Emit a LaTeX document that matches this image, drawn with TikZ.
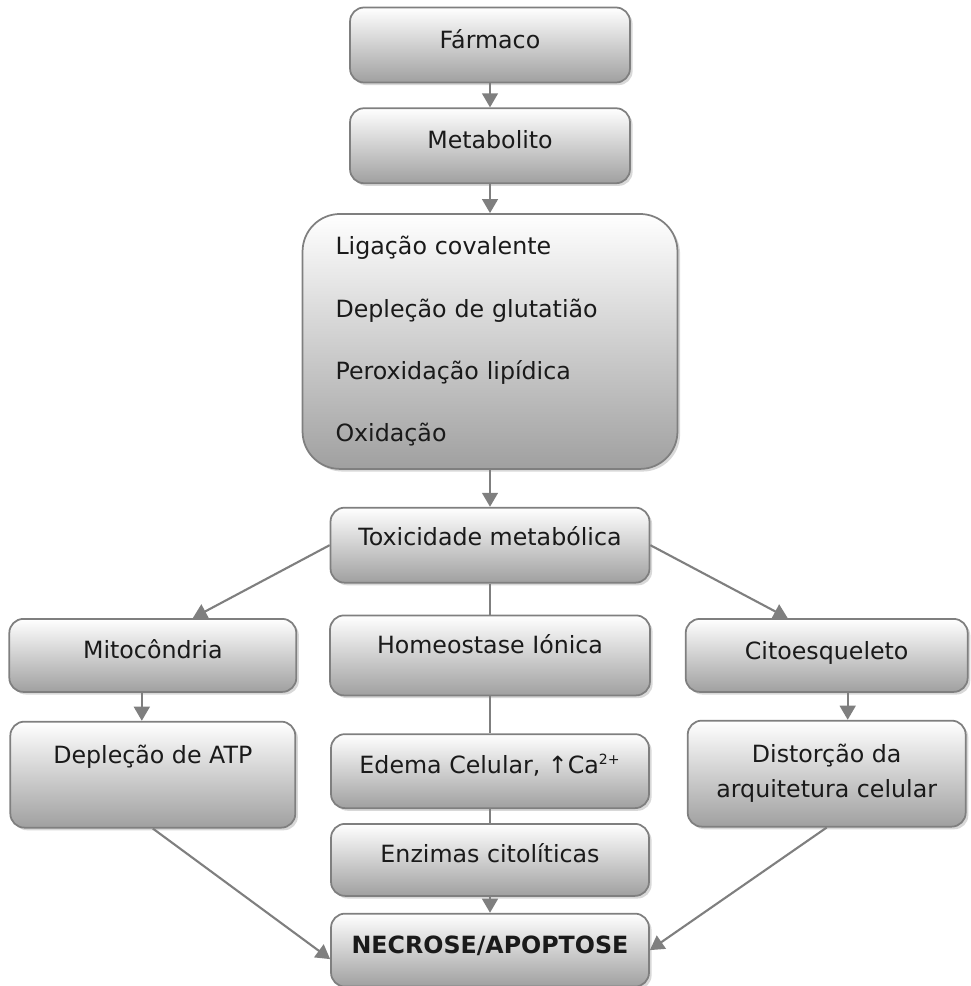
\documentclass[tikz,border=0pt]{standalone}
\usepackage{fontspec}
\setmainfont{DejaVu Sans}
\usepackage{tikz}
\usetikzlibrary{
  positioning,
  arrows.meta,
  calc,
  shadows
}
\definecolor{boxline}{HTML}{7F7F7F}
\definecolor{boxshade}{HTML}{A0A0A0}
\definecolor{linkgray}{HTML}{7F7F7F}
\definecolor{inkgray}{HTML}{1A1A1A}

\begin{document}
\begin{tikzpicture}[
  x=0.02cm, y=-0.02cm,
  >={Triangle[length=8pt,width=9pt]},
  flow/.style={
    rectangle, rounded corners=0.28cm, draw=boxline, line width=1pt,
    top color=white, bottom color=boxshade, align=center, inner sep=2pt,
    text=inkgray, font=\fontsize{13.5pt}{16pt}\selectfont,
    drop shadow={shadow xshift=1.5pt, shadow yshift=-1.5pt, fill=black!30, opacity=0.5}
  },
  lift/.style={text height=12pt, text depth=#1},
  lift/.default=9pt,
  link/.style={line width=1.2pt, linkgray}
]
\useasboundingbox (0,0) rectangle (970,986);

% central chain
\node[flow, lift=7.8pt, minimum width=5.6cm, minimum height=1.5cm] (far) at (490,45) {Fármaco};
\node[flow, lift, minimum width=5.6cm, minimum height=1.5cm, below=0.48cm of far] (met) {Metabolito};
\node[flow, rounded corners=0.75cm, minimum width=7.5cm, minimum height=5.1cm,
  align=left, text width=6.18cm, inner xsep=0.66cm,
  font=\fontsize{13.5pt}{35.5pt}\selectfont, below=0.58cm of met] (big) {
  Ligação covalente\\
  Depleção de glutatião\\
  Peroxidação lipídica\\
  Oxidação
};
\node[flow, lift=11.2pt, minimum width=6.38cm, minimum height=1.5cm, below=0.74cm of big] (tox) {Toxicidade metabólica};
\node[flow, lift=14.6pt, minimum width=6.4cm, minimum height=1.6cm, below=0.62cm of tox] (hom) {Homeostase Iónica};
\node[flow, lift=9.6pt, minimum width=6.36cm, minimum height=1.48cm, below=0.74cm of hom] (ede) {Edema Celular, ↑Ca\textsuperscript{\fontsize{8pt}{8pt}\selectfont 2+}};
\node[flow, lift=9.6pt, minimum width=6.36cm, minimum height=1.44cm, below=0.28cm of ede] (enz) {Enzimas citolíticas};
\node[flow, lift=8.4pt, minimum width=6.36cm, minimum height=1.46cm, below=0.32cm of enz] (nec) {\bfseries NECROSE/APOPTOSE};

% side branches
\node[flow, lift=8.4pt, minimum width=5.74cm, minimum height=1.46cm, left=0.64cm of hom] (mit) {Mitocôndria};
\node[flow, lift=24.8pt, minimum width=5.7cm, minimum height=2.12cm, below=0.56cm of mit] (atp) {Depleção de ATP};
\node[flow, lift=6.8pt, minimum width=5.64cm, minimum height=1.46cm, right=0.68cm of hom] (cit) {Citoesqueleto};
\node[flow, minimum width=5.56cm, minimum height=2.12cm,
  font=\fontsize{13.5pt}{20pt}\selectfont, below=0.54cm of cit] (dis) {
  Distorção da\\arquitetura celular
};

\draw[link, ->] (far) -- (met);
\draw[link, ->] (met) -- (big);
\draw[link, ->] (big) -- (tox);
\draw[link, ->] (tox.west) -- ($(mit.north)+(40,0)$);
\draw[link, ->] (tox.east) -- ($(cit.north)+(-39,0)$);
\draw[link] (tox) -- (hom);
\draw[link, ->] ($(mit.south)+(-11,0)$) -- ($(atp.north)+(-11,0)$);
\draw[link, ->] ($(cit.south)+(21,0)$) -- ($(dis.north)+(21,0)$);
\draw[link] (hom) -- (ede);
\draw[link] (ede) -- (enz);
\draw[link, ->] (enz) -- (nec);
\draw[link, ->] (atp.south) -- ($(nec.west)+(0,9)$);
\draw[link, ->] (dis.south) -- (nec.east);

\end{tikzpicture}
\end{document}
